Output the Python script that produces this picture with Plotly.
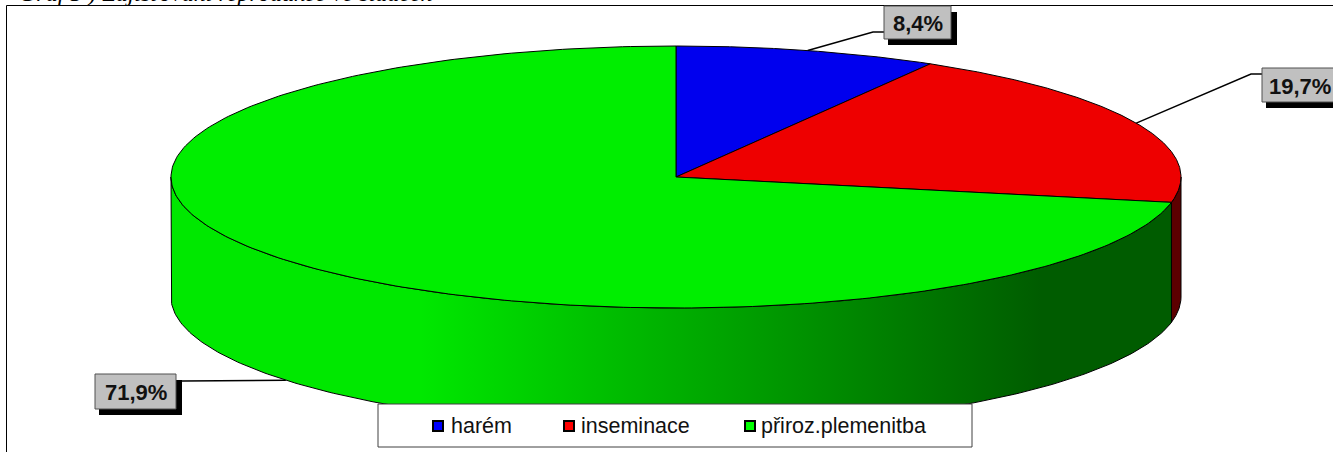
import numpy as np
import plotly.graph_objects as go

categories = ["harém", "inseminace", "přiroz.plemenitba"]
shares = [8.4, 19.7, 71.9]
labels = ["8,4%", "19,7%", "71,9%"]
top_colors = ["#0000ee", "#ee0000", "#00ee00"]
swatch_colors = ["#0000ff", "#ff0000", "#00ff00"]
title_text = "Graf 5 ) Zajišťování reprodukce ve stádech"

W, H = 1333, 452
CX, CY, RX, RY, DEPTH = 676, 177, 505, 131, 120


def ell(t, dy=0):
    t = np.radians(t)
    return CX + RX * np.sin(t), CY - RY * np.cos(t) + dy


fig = go.Figure()
edges = np.concatenate([[0], np.cumsum(shares)]) * 3.6
line_k = dict(color="#000000", width=1)

# Leader lines (below the pie)
boxes = [(884, 6, 951, 39), (1262, 68, 1345, 102), (95, 374, 176, 409)]
elbows = [(873, 32), (1251, 74), (183, 381)]
label_x = [917.5, 1300, 135.5]
for i in range(3):
    mid = (edges[i] + edges[i + 1]) / 2
    ex, ey = ell(mid, DEPTH if 90 < mid < 270 else 0)
    b = boxes[i]
    near = b[0] if ex > CX else b[2]
    fig.add_trace(go.Scatter(x=[near, elbows[i][0], ex], y=[elbows[i][1], elbows[i][1], ey],
                             mode="lines", line=dict(color="#000000", width=1.5),
                             showlegend=False, hoverinfo="skip"))

# Walls
for i in [1, 2]:
    a0, a1 = max(edges[i], 90), min(edges[i + 1], 270)
    t = np.linspace(a0, a1, 240)
    xt, yt = ell(t)
    xb, yb = ell(t, DEPTH)
    kw = dict(fillcolor="#5c0000") if i == 1 else dict(
        fillgradient=dict(type="horizontal",
                          colorscale=[[0, "#00e800"], [0.25, "#00e800"],
                                      [0.87, "#005c00"], [1, "#005c00"]]))
    fig.add_trace(go.Scatter(x=np.r_[xt, xb[::-1], xt[0]], y=np.r_[yt, yb[::-1], yt[0]],
                             mode="lines", fill="toself", line=line_k, showlegend=False,
                             hoverinfo="skip", **kw))

# Top slices
for i in range(3):
    t = np.linspace(edges[i], edges[i + 1], 300)
    xt, yt = ell(t)
    fig.add_trace(go.Scatter(x=np.r_[CX, xt, CX], y=np.r_[CY, yt, CY], mode="lines", fill="toself",
                             fillcolor=top_colors[i], line=line_k, name=categories[i],
                             showlegend=False, hoverinfo="name"))

# Legend panel and swatches sit above the pie
LX0, LY0, LX1, LY1 = 378, 404, 972, 447
fig.add_trace(go.Scatter(x=[LX0, LX1, LX1, LX0, LX0], y=[LY0, LY0, LY1, LY1, LY0], mode="lines",
                         fill="toself", fillcolor="#ffffff", line=dict(color="#404040", width=1),
                         showlegend=False, hoverinfo="skip"))
leg_mark_x = [438, 569, 750]
leg_text_x = [449, 579, 759]
fig.add_trace(go.Scatter(x=leg_mark_x, y=[426] * 3, mode="markers",
                         marker=dict(symbol="square", size=10, color=swatch_colors,
                                     line=dict(color="#000000", width=2)),
                         showlegend=False, hoverinfo="skip"))

shapes = [
    dict(type="rect", x0=6.5, y0=5.5, x1=1345, y1=470, line=dict(color="#000000", width=1), layer="below"),
]
ann = []
for b, s, lx in zip(boxes, labels, label_x):
    shapes.append(dict(type="rect", x0=b[0] + 4, y0=b[1] + 6, x1=b[2] + 6, y1=b[3] + 6,
                       fillcolor="#000000", line_width=0))
    shapes.append(dict(type="rect", x0=b[0], y0=b[1], x1=b[2], y1=b[3], fillcolor="#c0c0c0",
                       line=dict(color="#505050", width=1)))
    ann.append(dict(x=lx, y=(b[1] + b[3]) / 2 + 1,
                    text=s, showarrow=False, font=dict(family="Liberation Sans", size=22, color="#111111",
                                                      weight="bold"),
                    xanchor="center", yanchor="middle"))
for tx, n in zip(leg_text_x, categories):
    ann.append(dict(x=tx, y=426, text=n, showarrow=False, xanchor="left", yanchor="middle",
                    font=dict(family="Liberation Sans", size=21.5, color="#111111")))
ann.append(dict(x=17, y=0, yshift=7, text=title_text, showarrow=False, xanchor="left", yanchor="middle",
                font=dict(family="Liberation Serif", size=24, color="#000000", style="italic")))

fig.update_layout(width=W, height=H, margin=dict(l=0, r=0, t=0, b=0), paper_bgcolor="#ffffff",
                  plot_bgcolor="#ffffff", shapes=shapes, annotations=ann, showlegend=False,
                  xaxis=dict(range=[0, W], visible=False, fixedrange=True),
                  yaxis=dict(range=[H, 0], visible=False, fixedrange=True))
fig.write_html("out.html", config=dict(displayModeBar=False),
               post_script="document.body.style.margin='0';document.body.style.overflow='hidden';")
